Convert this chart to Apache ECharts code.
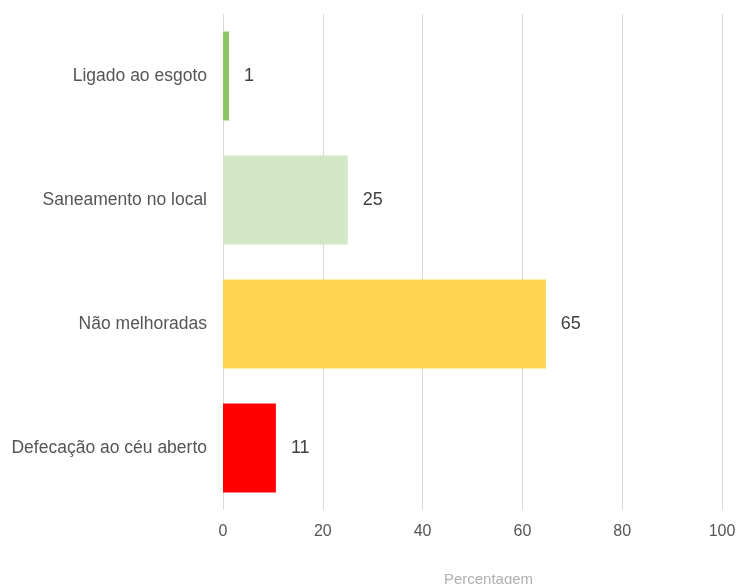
<!DOCTYPE html>
<html><head><meta charset="utf-8">
<script src="https://cdn.jsdelivr.net/npm/echarts@6/dist/echarts.min.js"></script>
<style>html,body{margin:0;padding:0;background:#fff}#c{width:738px;height:584px}</style>
</head><body><div id="c"></div>
<script>
const categories = ["Ligado ao esgoto", "Saneamento no local", "Não melhoradas", "Defecação ao céu aberto"];
const values = [1.2, 25, 64.7, 10.6];
const labels = ["1", "25", "65", "11"];
const colors = ["#8cc663", "#d3e6c5", "#ffd54f", "#ff0000"];
const xTicks = [0, 20, 40, 60, 80, 100];

const chart = echarts.init(document.getElementById('c'));
chart.setOption({
  animation: false,
  grid: {left: 223, right: 16, top: 14, bottom: 74, outerBoundsMode: 'none', containLabel: false},
  xAxis: {
    type: 'value', min: xTicks[0], max: xTicks[xTicks.length-1], interval: 20,
    name: 'Percentagem', nameLocation: 'middle', nameGap: 62,
    nameTextStyle: {color: '#b0b0b0', fontSize: 15, fontFamily: 'Liberation Sans', padding: [0,0,0,32]},
    axisLine: {show: false}, axisTick: {show: false},
    axisLabel: {color: '#555', fontSize: 16, fontFamily: 'Liberation Sans', margin: 14},
    splitLine: {lineStyle: {color: '#d9d9d9', width: 1}}
  },
  yAxis: {
    type: 'category', data: categories, inverse: true,
    axisLine: {show: false}, axisTick: {show: false},
    axisLabel: {color: '#555', fontSize: 17.5, fontFamily: 'Liberation Sans', margin: 16}
  },
  series: [{
    type: 'bar', barWidth: 89,
    data: values.map((v, i) => ({value: v, itemStyle: {color: colors[i]}})),
    label: {show: true, position: 'right', distance: 15, color: '#404040', fontSize: 18, fontFamily: 'Liberation Sans',
      formatter: p => labels[p.dataIndex]}
  }]
});
</script></body></html>
